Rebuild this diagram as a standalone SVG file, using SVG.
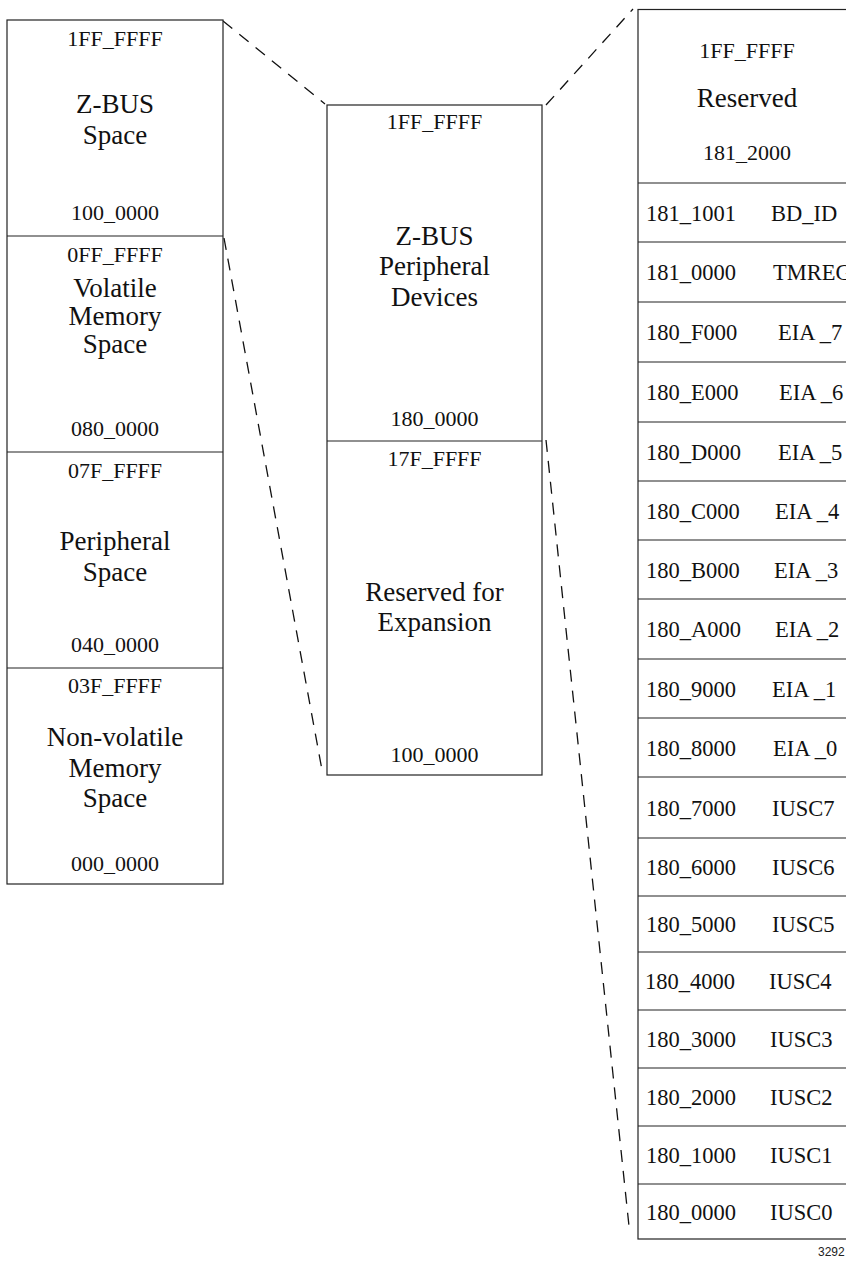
<svg xmlns="http://www.w3.org/2000/svg" width="846" height="1264" viewBox="0 0 846 1264">
<style>
.box{fill:#fff;stroke:#222;stroke-width:1.2}
.div{stroke:#222;stroke-width:1.2}
.addr{font-family:"Liberation Serif",serif;font-size:22px;fill:#111;text-anchor:middle}
.lbl{font-family:"Liberation Serif",serif;font-size:27px;fill:#111;text-anchor:middle}
.num{font-family:"Liberation Serif",serif;font-size:22.5px;fill:#111}
.dash{fill:none;stroke:#111;stroke-width:1.3;stroke-dasharray:12 9}
</style>
<rect width="846" height="1264" fill="#fff"/>
<g id="connectors">
<line class="dash" x1="223" y1="21" x2="325" y2="104"/>
<line class="dash" x1="546" y1="105" x2="633" y2="9"/>
<line class="dash" x1="224" y1="238" x2="322" y2="770"/>
<line class="dash" x1="546" y1="440" x2="629" y2="1226"/>
</g>
<g id="left-map">
<rect class="box" x="7" y="20" width="216" height="864"/>
<line class="div" x1="7" y1="236" x2="223" y2="236"/>
<line class="div" x1="7" y1="452" x2="223" y2="452"/>
<line class="div" x1="7" y1="668" x2="223" y2="668"/>
</g>
<g id="zbus-space">
<text class="addr" x="115" y="46">1FF_FFFF</text>
<text class="lbl" x="115" y="113">Z-BUS</text>
<text class="lbl" x="115" y="144">Space</text>
<text class="addr" x="115" y="220">100_0000</text>
</g>
<g id="volatile-memory">
<text class="addr" x="115" y="262">0FF_FFFF</text>
<text class="lbl" x="115" y="297">Volatile</text>
<text class="lbl" x="115" y="325">Memory</text>
<text class="lbl" x="115" y="353">Space</text>
<text class="addr" x="115" y="436">080_0000</text>
</g>
<g id="peripheral-space">
<text class="addr" x="115" y="478">07F_FFFF</text>
<text class="lbl" x="115" y="550">Peripheral</text>
<text class="lbl" x="115" y="581">Space</text>
<text class="addr" x="115" y="652">040_0000</text>
</g>
<g id="nonvolatile-memory">
<text class="addr" x="115" y="693">03F_FFFF</text>
<text class="lbl" x="115" y="746">Non-volatile</text>
<text class="lbl" x="115" y="777">Memory</text>
<text class="lbl" x="115" y="807">Space</text>
<text class="addr" x="115" y="871">000_0000</text>
</g>
<g id="middle-map">
<rect class="box" x="327" y="105" width="215" height="670"/>
<line class="div" x1="327" y1="441" x2="542" y2="441"/>
</g>
<g id="zbus-peripheral-devices">
<text class="addr" x="434.5" y="129">1FF_FFFF</text>
<text class="lbl" x="434.5" y="245">Z-BUS</text>
<text class="lbl" x="434.5" y="275">Peripheral</text>
<text class="lbl" x="434.5" y="306">Devices</text>
<text class="addr" x="434.5" y="426">180_0000</text>
</g>
<g id="reserved-expansion">
<text class="addr" x="434.5" y="466">17F_FFFF</text>
<text class="lbl" x="434.5" y="601">Reserved for</text>
<text class="lbl" x="434.5" y="631">Expansion</text>
<text class="addr" x="434.5" y="762">100_0000</text>
</g>
<g id="right-map">
<rect class="box" x="638" y="9.5" width="230" height="1229.5"/>
<g class="div">
<line x1="638" y1="183" x2="846" y2="183"/>
<line x1="638" y1="242" x2="846" y2="242"/>
<line x1="638" y1="302" x2="846" y2="302"/>
<line x1="638" y1="362" x2="846" y2="362"/>
<line x1="638" y1="422" x2="846" y2="422"/>
<line x1="638" y1="481" x2="846" y2="481"/>
<line x1="638" y1="540" x2="846" y2="540"/>
<line x1="638" y1="599" x2="846" y2="599"/>
<line x1="638" y1="659" x2="846" y2="659"/>
<line x1="638" y1="718" x2="846" y2="718"/>
<line x1="638" y1="777" x2="846" y2="777"/>
<line x1="638" y1="838" x2="846" y2="838"/>
<line x1="638" y1="896" x2="846" y2="896"/>
<line x1="638" y1="952" x2="846" y2="952"/>
<line x1="638" y1="1010" x2="846" y2="1010"/>
<line x1="638" y1="1068" x2="846" y2="1068"/>
<line x1="638" y1="1126" x2="846" y2="1126"/>
<line x1="638" y1="1184" x2="846" y2="1184"/>
</g>
</g>
<g id="reserved-top">
<text class="addr" x="747" y="58">1FF_FFFF</text>
<text class="lbl" x="747" y="107">Reserved</text>
<text class="addr" x="747" y="160">181_2000</text>
</g>
<g id="row-bd-id"><text class="num" x="646" y="221">181_1001</text><text class="num" x="771" y="221">BD_ID</text></g>
<g id="row-tmreg"><text class="num" x="646" y="280">181_0000</text><text class="num" x="773" y="280">TMREG</text></g>
<g id="row-eia7"><text class="num" x="646" y="340">180_F000</text><text class="num" x="778" y="340">EIA _7</text></g>
<g id="row-eia6"><text class="num" x="646" y="400">180_E000</text><text class="num" x="779" y="400">EIA _6</text></g>
<g id="row-eia5"><text class="num" x="646" y="460">180_D000</text><text class="num" x="778" y="460">EIA _5</text></g>
<g id="row-eia4"><text class="num" x="646" y="519">180_C000</text><text class="num" x="775" y="519">EIA _4</text></g>
<g id="row-eia3"><text class="num" x="646" y="578">180_B000</text><text class="num" x="774" y="578">EIA _3</text></g>
<g id="row-eia2"><text class="num" x="646" y="637">180_A000</text><text class="num" x="775" y="637">EIA _2</text></g>
<g id="row-eia1"><text class="num" x="646" y="697">180_9000</text><text class="num" x="772" y="697">EIA _1</text></g>
<g id="row-eia0"><text class="num" x="646" y="756">180_8000</text><text class="num" x="773" y="756">EIA _0</text></g>
<g id="row-iusc7"><text class="num" x="646" y="816">180_7000</text><text class="num" x="772" y="816">IUSC7</text></g>
<g id="row-iusc6"><text class="num" x="646" y="875">180_6000</text><text class="num" x="772" y="875">IUSC6</text></g>
<g id="row-iusc5"><text class="num" x="646" y="932">180_5000</text><text class="num" x="772" y="932">IUSC5</text></g>
<g id="row-iusc4"><text class="num" x="645" y="989">180_4000</text><text class="num" x="769" y="989">IUSC4</text></g>
<g id="row-iusc3"><text class="num" x="646" y="1047">180_3000</text><text class="num" x="770" y="1047">IUSC3</text></g>
<g id="row-iusc2"><text class="num" x="646" y="1105">180_2000</text><text class="num" x="770" y="1105">IUSC2</text></g>
<g id="row-iusc1"><text class="num" x="646" y="1163">180_1000</text><text class="num" x="770" y="1163">IUSC1</text></g>
<g id="row-iusc0"><text class="num" x="646" y="1220">180_0000</text><text class="num" x="770" y="1220">IUSC0</text></g>
<text x="818" y="1256" font-family="Liberation Sans, sans-serif" font-size="12" fill="#222">3292</text>
</svg>
